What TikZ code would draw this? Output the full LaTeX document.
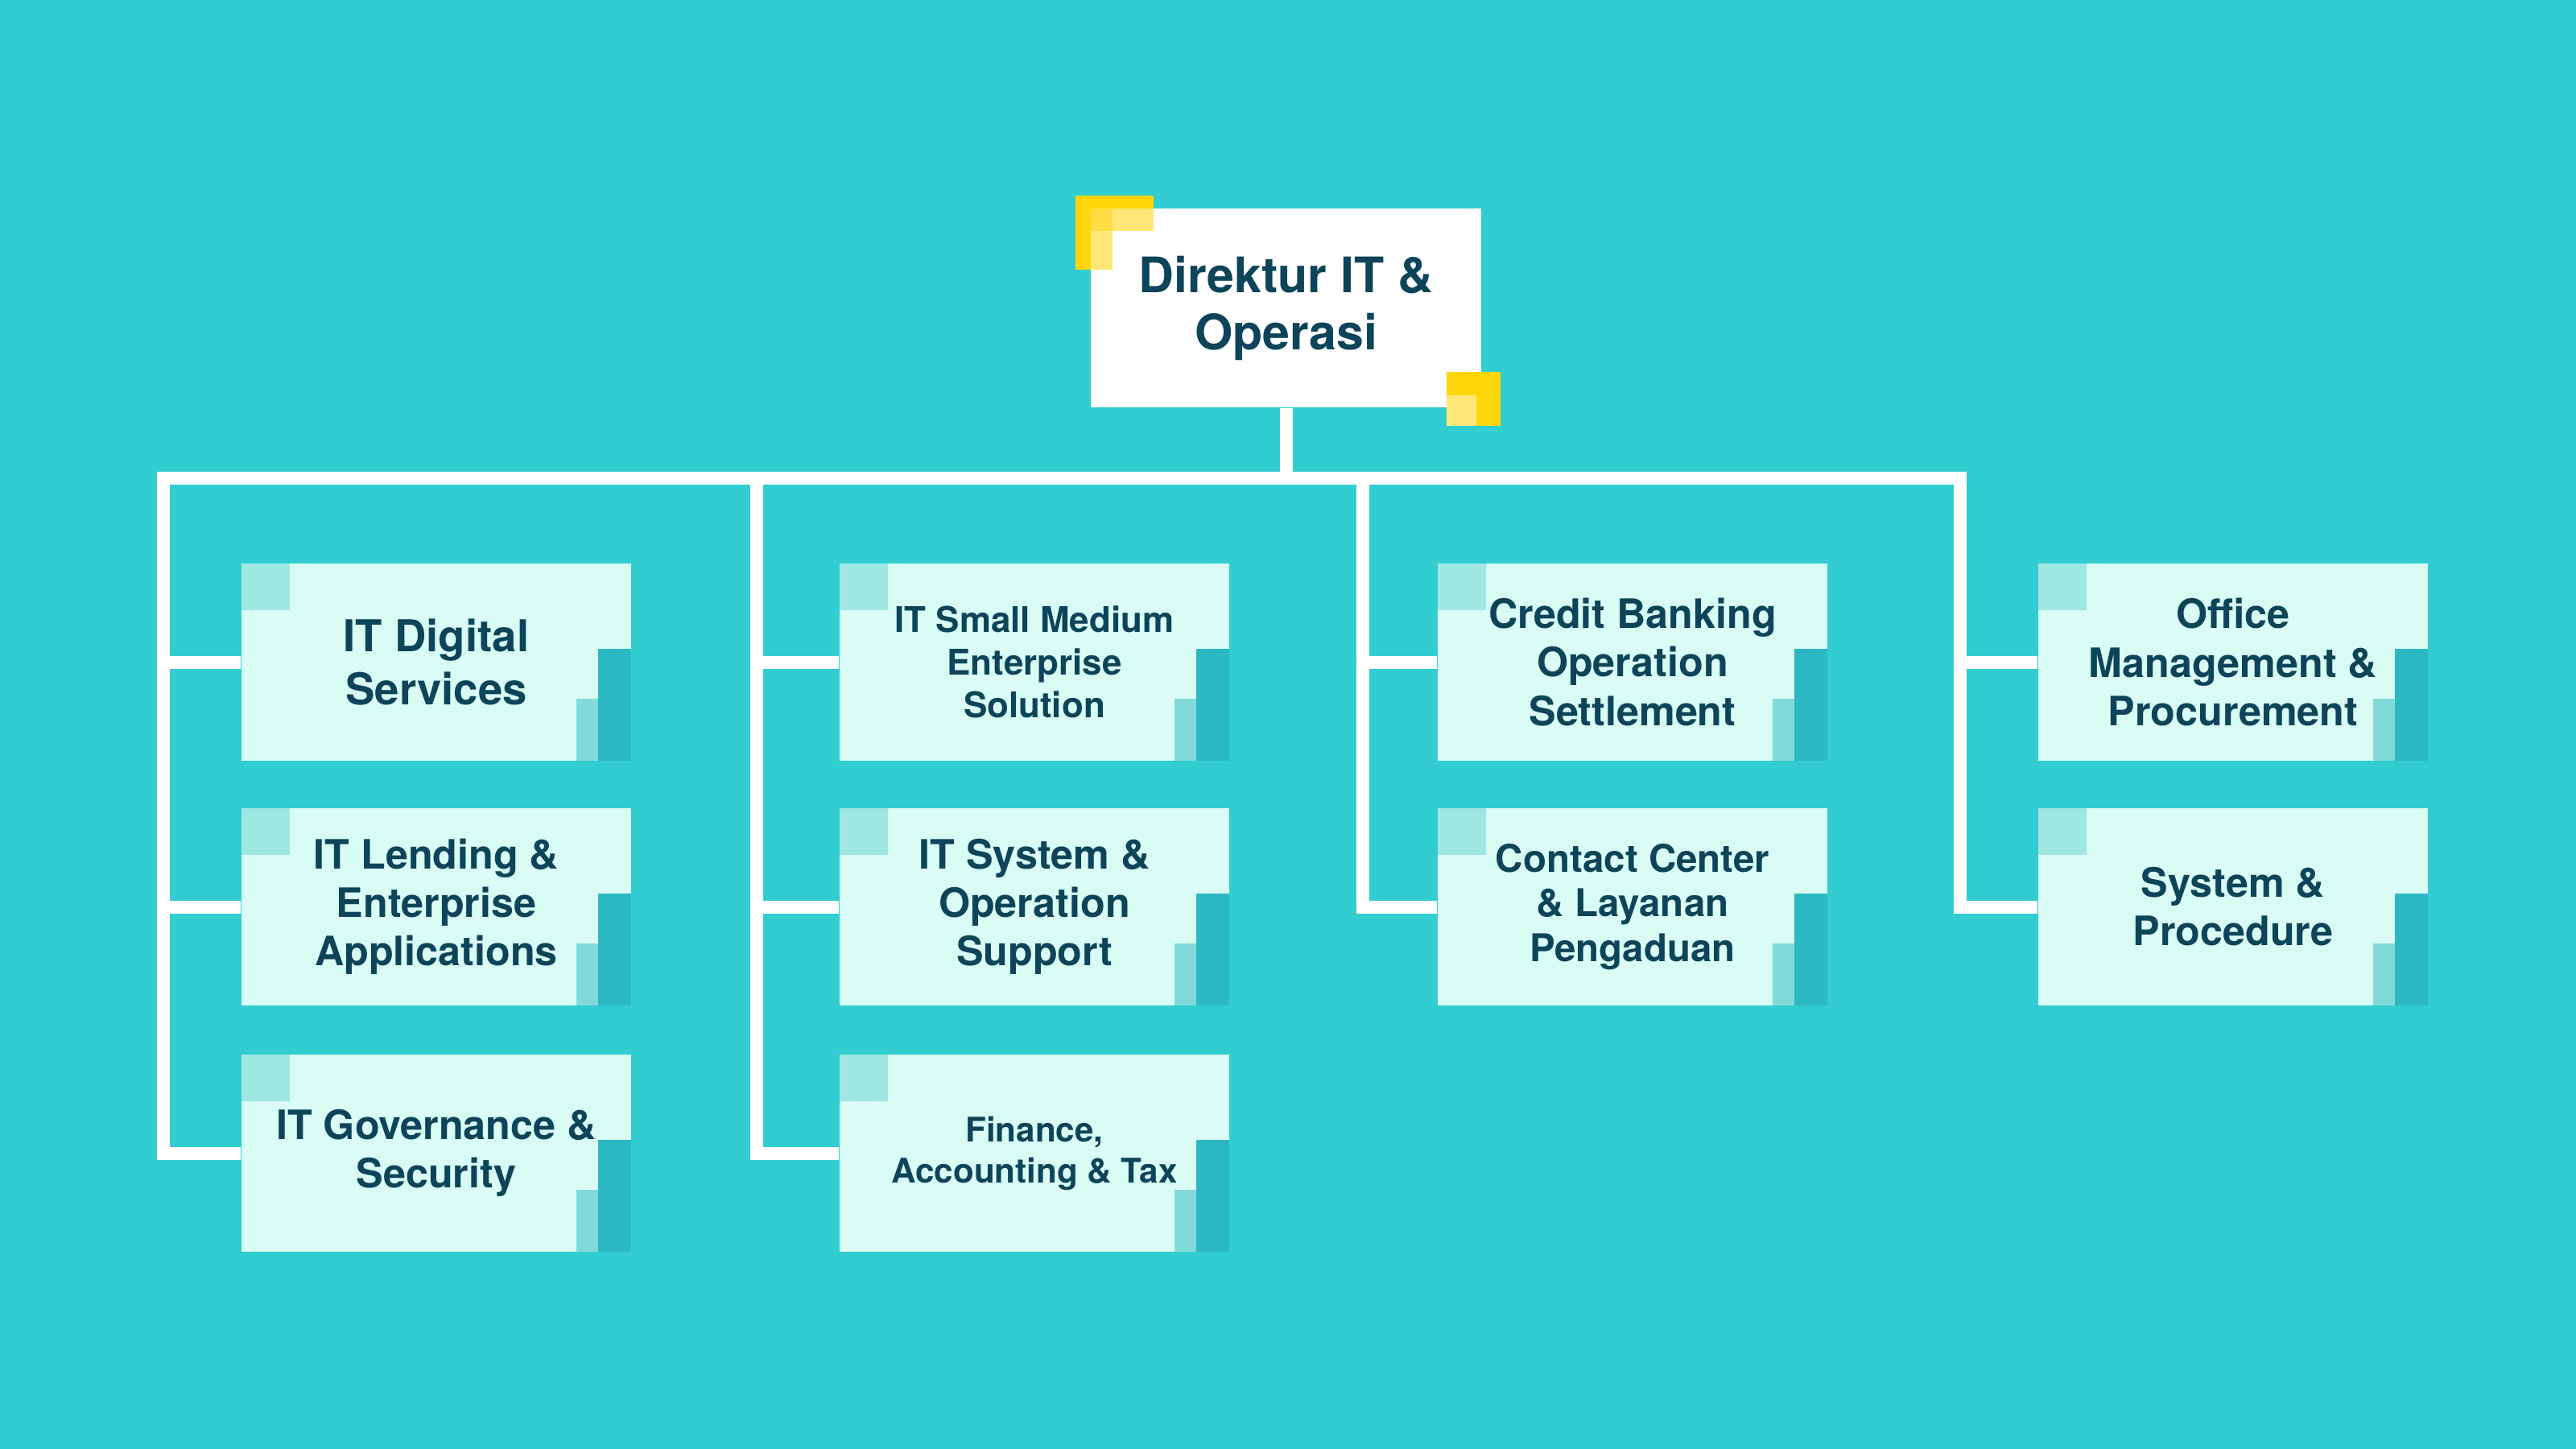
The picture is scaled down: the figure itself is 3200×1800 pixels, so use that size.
\documentclass[tikz,border=0pt]{standalone}
\usepackage{fontspec}
\setmainfont{TeX Gyre Heros}
\definecolor{bgc}{HTML}{31CDD1}
\definecolor{boxc}{HTML}{D9FDF5}
\definecolor{sqc}{HTML}{9EE7E2}
\definecolor{darkc}{HTML}{2CB8C3}
\definecolor{lightc}{HTML}{82D9DA}
\definecolor{txtc}{HTML}{0E4459}
\definecolor{goldc}{HTML}{FFD60A}
\definecolor{palec}{HTML}{FFE777}
\definecolor{midc}{HTML}{FFDE45}
\begin{document}
\begin{tikzpicture}[x=0.01cm,y=-0.01cm,
  conn/.style={draw=white, line width=0.16cm, line join=miter},
  unit/.style={rectangle, fill=boxc, inner sep=0pt, minimum width=4.84cm, minimum height=2.45cm,
    text=txtc, align=center,
    path picture={
      \fill[sqc] (path picture bounding box.north west) rectangle ++(60,58);
      \fill[darkc] (path picture bounding box.south east) rectangle ++(-41,-139);
      \fill[lightc] (path picture bounding box.south east) ++(-41,0) rectangle ++(-27,-77);
    }},
  topbox/.style={rectangle, fill=white, inner sep=0pt, minimum width=4.85cm, minimum height=2.47cm,
    text=txtc, align=center, font=\bfseries\fontsize{17.3}{20.2}\selectfont},
  fsA/.style={font=\bfseries\fontsize{15.5}{18.8}\selectfont},
  fsB/.style={font=\bfseries\fontsize{14.3}{17.1}\selectfont},
  fsC/.style={font=\bfseries\fontsize{12.5}{15.1}\selectfont},
  fsD/.style={font=\bfseries\fontsize{12}{14.5}\selectfont},
  fsE/.style={font=\bfseries\fontsize{13.5}{15.8}\selectfont}
]
\fill[bgc] (0,0) rectangle (3200,1800);
\useasboundingbox (0,0) rectangle (3200,1800);

% bus coordinates
\coordinate (b1) at (203,594);
\coordinate (b2) at (940,594);
\coordinate (b3) at (1693,594);
\coordinate (b4) at (2435,594);

% top box
\node[topbox] (top) at (1597.5,382.5) {Direktur IT \&\\Operasi};

% units
\node[unit,fsA] (c11) at (542,822.5)  {IT Digital\\Services};
\node[unit,fsB] (c12) at (542,1126.5) {IT Lending \&\\Enterprise\\Applications};
\node[unit,fsB] (c13) at (542,1432.5) {IT Governance \&\\Security};
\node[unit,fsC] (c21) at (1285,822.5)  {IT Small Medium\\Enterprise\\Solution};
\node[unit,fsB] (c22) at (1285,1126.5) {IT System \&\\Operation\\Support};
\node[unit,fsD] (c23) at (1285,1432.5) {Finance,\\Accounting \& Tax};
\node[unit,fsB] (c31) at (2028,822.5)  {Credit Banking\\Operation\\Settlement};
\node[unit,fsE] (c32) at (2028,1126.5) {Contact Center\\\& Layanan\\Pengaduan};
\node[unit,fsB] (c41) at (2774,822.5)  {Office\\Management \&\\Procurement};
\node[unit,fsB] (c42) at (2774,1126.5) {System \&\\Procedure};

% connectors
\draw[conn] (top.south) -- (top.south |- b1);
\draw[conn] (c13.west) -| (b1) -- (b4) |- (c42.west);
\draw[conn] (b2) |- (c23.west);
\draw[conn] (b3) |- (c32.west);
\draw[conn] (c11.west) -- (c11.west -| b1);
\draw[conn] (c12.west) -- (c12.west -| b1);
\draw[conn] (c21.west) -- (c21.west -| b2);
\draw[conn] (c22.west) -- (c22.west -| b2);
\draw[conn] (c31.west) -- (c31.west -| b3);
\draw[conn] (c41.west) -- (c41.west -| b4);

% yellow accents on the top box
\fill[goldc] (1336,243) rectangle (1433,259);
\fill[goldc] (1336,243) rectangle (1355,335);
\fill[palec] (1355,259) rectangle (1433,287);
\fill[palec] (1355,259) rectangle (1382,335);
\fill[midc] (1355,259) rectangle (1382,287);
\fill[goldc] (1797,462) rectangle (1864,529);
\fill[palec] (1797,491) rectangle (1834,529);
\end{tikzpicture}
\end{document}
